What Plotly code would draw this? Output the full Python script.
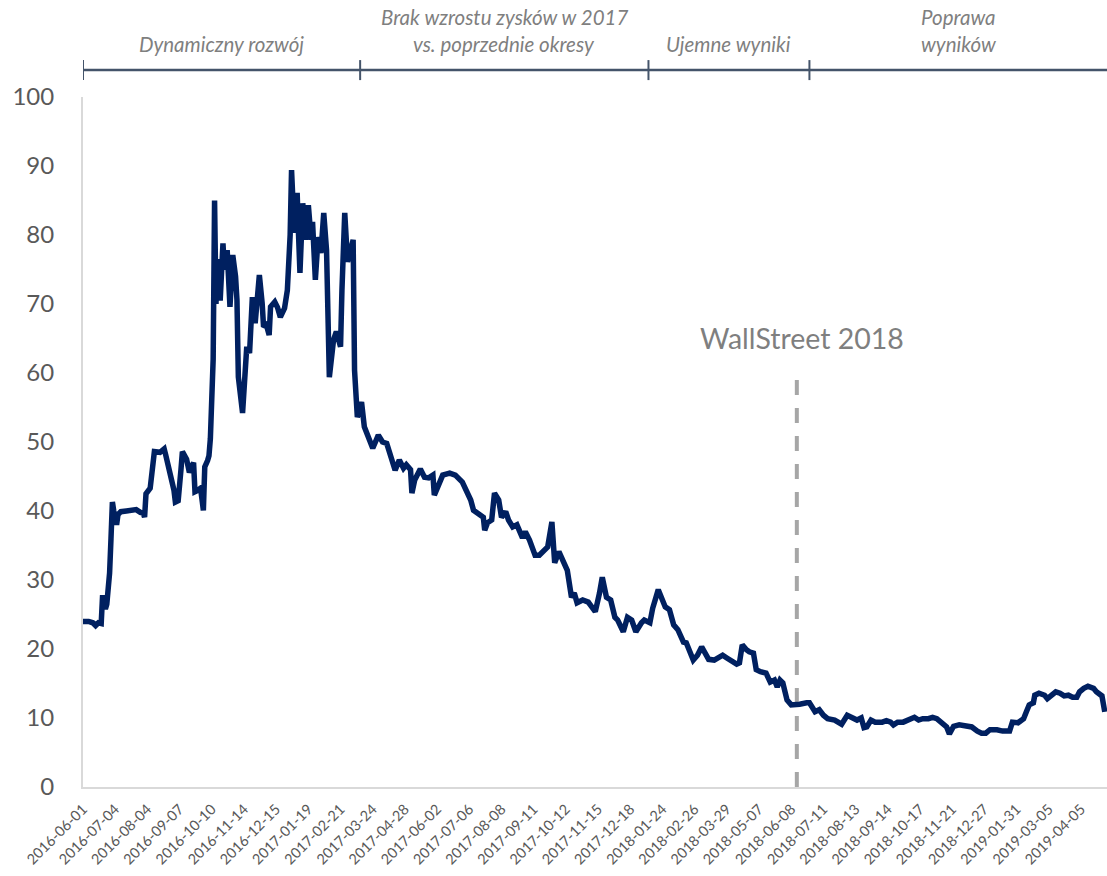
import plotly.graph_objects as go

# Trading session index (0 = 2016-06-01) and closing price
sessions = [
    0, 4, 7, 9, 11, 13, 14, 16, 17, 19, 20, 21, 22, 24, 25, 27, 31, 34, 38, 41,
    43, 44, 45, 48, 50, 51, 55, 58, 59, 61, 63, 65, 66, 68, 70, 71, 74, 75, 76, 79,
    80, 82, 84, 86, 87, 89, 90, 91, 93, 94, 95, 96, 98, 100, 101, 103, 104, 105, 107, 109,
    110, 111, 114, 115, 117, 119, 121, 123, 124, 126, 128, 129, 131, 133, 134, 137, 139, 141, 144, 146,
    148, 149, 151, 153, 154, 155, 157, 159, 161, 163, 164, 166, 168, 170, 172, 174, 176, 179, 181, 184,
    185, 187, 189, 191, 193, 194, 196, 198, 199, 201, 204, 207, 211, 214, 217, 221, 223, 226, 229, 231,
    234, 235, 237, 241, 244, 247, 250, 251, 254, 257, 262, 266, 271, 274, 277, 279, 282, 286, 287, 289,
    292, 294, 297, 299, 302, 304, 307, 310, 314, 316, 319, 323, 326, 330, 332, 335, 337, 340, 343, 346,
    349, 351, 353, 357, 361, 364, 366, 369, 371, 374, 377, 380, 382, 386, 389, 392, 395, 399, 401, 405,
    407, 411, 414, 416, 419, 422, 425, 429, 431, 436, 439, 442, 444, 447, 451, 454, 457, 460, 464, 467,
    469, 471, 474, 476, 479, 481, 484, 488, 491, 494, 496, 498, 500, 503, 506, 509, 512, 517, 519, 523,
    526, 529, 532, 537, 542, 546, 549, 553, 556, 558, 560, 563, 566, 571, 574, 577, 579, 582, 586, 589,
    594, 597, 600, 604, 607, 610, 614, 617, 619, 622, 626, 630, 635, 639, 642, 645, 648, 653, 657, 662,
    664, 668, 672, 674, 676, 679, 680, 683, 687, 689, 692, 695, 698, 701, 704, 707, 710, 712, 715, 718,
    722, 724, 728, 730,
]
price = [
    24.0, 24.0, 23.8, 23.4, 23.8, 23.7, 27.8, 25.8, 26.5, 31.0, 36.0, 41.3, 40.0, 38.0, 39.5, 39.9, 40.0, 40.1, 40.2, 39.8,
    39.7, 39.1, 42.5, 43.3, 46.0, 48.6, 48.5, 49.0, 48.2, 46.5, 44.0, 43.0, 41.3, 41.5, 46.0, 48.6, 47.5, 46.5, 45.6, 47.0,
    42.8, 43.0, 43.3, 40.1, 46.4, 47.3, 48.0, 50.5, 62.0, 85.0, 70.0, 76.5, 70.5, 78.8, 75.0, 77.8, 74.5, 69.6, 77.1, 74.0,
    70.6, 59.4, 54.2, 58.0, 63.8, 62.9, 71.0, 67.2, 69.0, 74.2, 70.1, 66.7, 67.0, 65.5, 69.6, 70.3, 69.5, 68.1, 69.4, 72.0,
    80.0, 89.4, 80.3, 86.1, 80.0, 74.5, 84.6, 79.3, 84.3, 79.3, 81.9, 73.5, 79.7, 77.4, 83.2, 77.8, 59.4, 64.8, 66.0, 63.8,
    72.0, 83.2, 76.1, 78.0, 79.3, 60.4, 53.6, 55.0, 55.8, 52.2, 50.7, 49.1, 51.0, 50.0, 49.8, 47.0, 45.9, 47.4, 46.2, 46.7,
    46.0, 42.6, 44.5, 46.1, 44.9, 44.8, 45.2, 42.3, 44.0, 45.2, 45.5, 45.2, 44.2, 43.0, 41.6, 40.1, 39.7, 39.1, 37.2, 38.3,
    38.7, 42.6, 41.6, 39.1, 39.9, 38.7, 37.7, 38.0, 36.1, 37.0, 35.8, 33.6, 33.6, 34.3, 34.8, 38.4, 32.5, 34.1, 32.9, 31.4,
    27.5, 28.1, 26.7, 27.1, 26.8, 26.1, 25.4, 28.1, 30.4, 27.5, 27.1, 24.6, 24.2, 22.5, 24.6, 24.2, 22.5, 23.8, 24.2, 23.8,
    25.9, 28.6, 26.8, 26.1, 25.7, 23.5, 22.8, 21.0, 20.9, 18.4, 19.1, 20.3, 19.6, 18.5, 18.4, 18.8, 19.1, 18.7, 18.1, 17.8,
    18.0, 20.6, 19.9, 19.6, 19.4, 17.0, 16.7, 16.5, 15.2, 15.5, 14.5, 15.5, 15.1, 12.6, 11.9, 11.9, 12.0, 12.2, 12.2, 10.9,
    11.2, 10.4, 9.9, 9.7, 9.1, 10.4, 10.0, 9.7, 10.0, 8.6, 8.7, 9.7, 9.4, 9.4, 9.6, 9.4, 9.0, 9.4, 9.4, 9.7,
    10.1, 9.7, 9.9, 9.9, 10.1, 9.9, 9.3, 8.7, 7.7, 8.8, 9.0, 8.8, 8.7, 8.1, 7.8, 7.8, 8.3, 8.3, 8.1, 8.1,
    9.4, 9.3, 9.9, 10.9, 11.9, 12.2, 13.3, 13.6, 13.3, 12.8, 13.2, 13.8, 13.6, 13.2, 13.3, 13.0, 13.0, 13.8, 14.3, 14.6,
    14.3, 13.8, 13.2, 10.9,
]

# Category labels shown every 23 sessions
tick_labels = [
    "2016-06-01", "2016-07-04", "2016-08-04", "2016-09-07", "2016-10-10", "2016-11-14",
    "2016-12-15", "2017-01-19", "2017-02-21", "2017-03-24", "2017-04-28", "2017-06-02",
    "2017-07-06", "2017-08-08", "2017-09-11", "2017-10-12", "2017-11-15", "2017-12-18",
    "2018-01-24", "2018-02-26", "2018-03-29", "2018-05-07", "2018-06-08", "2018-07-11",
    "2018-08-13", "2018-09-14", "2018-10-17", "2018-11-21", "2018-12-27", "2019-01-31",
    "2019-03-05", "2019-04-05",
]
label_step = 23
last_session = 731.6

# Phases of the company's history (session boundaries) and their titles
phase_bounds = [0, 198, 404, 519, last_session]
phase_titles = [
    ["Dynamiczny rozwój"],
    ["Brak wzrostu zysków w 2017", "vs. poprzednie okresy"],
    ["Ujemne wyniki"],
    ["Poprawa", "wyników"],
]

event_session = 510
event_label = "WallStreet 2018"
event_top = 59.3

FONT = "Lato"
NAVY = "#002060"
BRACKET = "#44546A"

fig = go.Figure()
fig.add_trace(go.Scatter(
    x=sessions, y=price, mode="lines",
    line=dict(color=NAVY, width=5.5),
    hoverinfo="x+y", showlegend=False,
))

# Event marker
fig.add_shape(type="line", xref="x", yref="y",
              x0=event_session, x1=event_session, y0=0, y1=event_top,
              line=dict(color="#A6A6A6", width=4, dash="15px,13px"), layer="below")
fig.add_annotation(x=event_session + 4, y=event_top + 5.8, xref="x", yref="y",
                   text=event_label, showarrow=False, yanchor="middle",
                   font=dict(family=FONT, size=28.5, color="#7F7F7F"))

# Phase bracket above the plot
bracket_y = 1.039
fig.add_shape(type="line", xref="x", yref="paper",
              x0=phase_bounds[0], x1=phase_bounds[-1], y0=bracket_y, y1=bracket_y,
              line=dict(color=BRACKET, width=2.5))
for b in phase_bounds[:-1]:
    fig.add_shape(type="line", xref="x", yref="paper",
                  x0=b, x1=b, y0=bracket_y - 0.0145, y1=bracket_y + 0.0145,
                  line=dict(color=BRACKET, width=2))

# Title rows: lower row sits just above the bracket, upper row above it
row_y = [1.0775, 1.1165]
for i, lines in enumerate(phase_titles):
    mid = (phase_bounds[i] + phase_bounds[i + 1]) / 2
    for j, line_text in enumerate(reversed(lines)):
        fig.add_annotation(x=mid, y=row_y[j], xref="x", yref="paper",
                           text=line_text, showarrow=False, yanchor="middle",
                           font=dict(family=FONT, size=20.5, color="#7F7F7F",
                                     style="italic"))

fig.update_layout(
    width=1107, height=876,
    margin=dict(l=83, r=0, t=97, b=89),
    paper_bgcolor="white", plot_bgcolor="white",
    font=dict(family=FONT, color="#595959"),
    xaxis=dict(
        range=[0, last_session],
        tickmode="array",
        tickvals=[i * label_step for i in range(len(tick_labels))],
        ticktext=tick_labels,
        tickangle=-45,
        tickfont=dict(family=FONT, size=14.5, color="#595959"),
        showgrid=False, zeroline=False,
        showline=True, linecolor="#D9D9D9", linewidth=2,
        ticks="", ticklabelstandoff=6, automargin=False,
    ),
    yaxis=dict(
        range=[0, 100], dtick=10,
        tickfont=dict(family=FONT, size=24, color="#595959"),
        showgrid=False, zeroline=False,
        showline=True, linecolor="#D9D9D9", linewidth=2,
        ticks="", ticklabelstandoff=22, automargin=False,
    ),
)

fig.write_html("out.html")
